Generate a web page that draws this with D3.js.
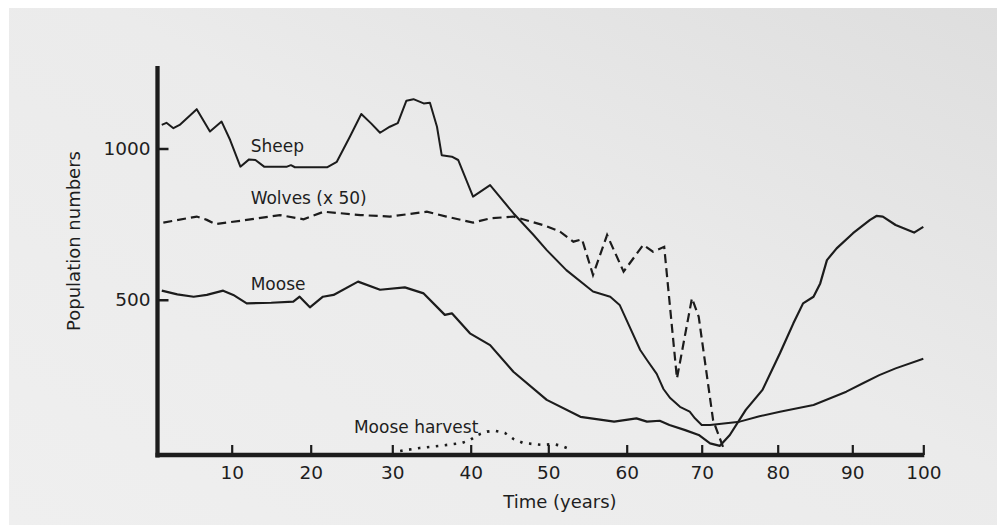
<!DOCTYPE html>
<html>
<head>
<meta charset="utf-8">
<script src="https://cdn.jsdelivr.net/npm/d3@7"></script>
<style>
  html, body { margin: 0; padding: 0; background: #ffffff; }
  svg { display: block; }
  text { font-family: "DejaVu Sans", sans-serif; fill: #1e1e1e; }
</style>
</head>
<body>
<svg id="chart" width="997" height="525"></svg>
<script>
// ---- Data ----
const xTickValues = [10, 20, 30, 40, 50, 60, 70, 80, 90, 100];
const yTickValues = [500, 1000];

const sheepYears  = [1, 1.6, 2.5, 3.3, 5.5, 7.2, 8.7, 9.8, 11.1, 12.2, 13, 14.1, 17, 17.5, 18, 22, 23.2, 24.8, 26.2, 27.4, 28.5, 29.7, 30.7, 31.8, 32.7, 34, 34.8, 35.7, 36.3, 37.6, 38.4, 40.3, 42.5, 45.5, 48.1, 49.8, 52.3, 55.7, 57.9, 59.1, 61.8, 62.7, 64, 64.9, 65.8, 67.1, 68.4, 69.1, 70, 71.1, 75, 77.6, 80.3, 84.8, 89.2, 91.5, 93.8, 96.1, 100];
const sheepValues = [1078, 1085, 1067, 1078, 1130, 1056, 1089, 1028, 940, 964, 962, 940, 940, 945, 938, 938, 956, 1039, 1114, 1083, 1052, 1072, 1084, 1158, 1163, 1149, 1151, 1072, 978, 973, 962, 841, 879, 786, 714, 664, 598, 527, 510, 483, 334, 301, 255, 205, 175, 146, 130, 108, 86, 86, 97, 115, 130, 152, 196, 224, 251, 273, 305];

const mooseYears  = [1, 3, 5.1, 6.8, 8.9, 10.2, 11.9, 15, 17.8, 18.6, 19.9, 21.5, 22.8, 25.8, 28.5, 31.6, 34, 36.7, 37.6, 39.9, 42.5, 45.5, 49.8, 54.1, 58.4, 61.3, 62.7, 64.4, 65.7, 67.8, 69.6, 71.1, 72.4, 73.7, 75.8, 78, 80.3, 82.1, 83.4, 84.8, 85.7, 86.6, 87.9, 90.1, 92.5, 93.4, 94.3, 96.1, 98.7, 100];
const mooseValues = [530, 518, 510, 516, 530, 516, 488, 490, 494, 510, 475, 510, 516, 560, 533, 541, 521, 450, 455, 389, 350, 262, 169, 113, 97, 108, 97, 100, 86, 69, 53, 25, 17, 53, 136, 202, 323, 422, 488, 510, 554, 631, 670, 720, 764, 777, 775, 747, 722, 741];

const wolfYears  = [1.2, 5.5, 6.8, 7.9, 11.9, 16.1, 19.1, 21.6, 26.1, 29.7, 34.4, 36.9, 40.3, 42.5, 45.5, 49.6, 51.5, 53.2, 54.3, 55.7, 57.5, 59.6, 62.2, 63.5, 65, 66.7, 68.7, 69.6, 71.5, 73];
const wolfValues = [755, 775, 764, 750, 764, 780, 766, 791, 780, 775, 791, 775, 755, 769, 775, 745, 725, 692, 700, 582, 714, 593, 681, 659, 675, 240, 505, 444, 102, 0];

const harvestYears  = [31, 33.5, 36, 38.8, 39.9, 40.9, 42.1, 43.1, 44.4, 45.5, 46.7, 48, 49.3, 50.6, 51.7, 53];
const harvestValues = [0, 10, 17, 26, 36, 53, 64, 67, 60, 40, 27, 23, 20, 23, 17, 3];

const seriesLabels = ["Sheep", "Wolves (x 50)", "Moose", "Moose harvest"];
const xTitle = "Time (years)";
const yTitle = "Population numbers";

// ---- Layout ----
const svg = d3.select("#chart");
const W = 997, H = 525;

// paper background
const defs = svg.append("defs");
const grad = defs.append("linearGradient").attr("id", "paper")
  .attr("x1", "0").attr("y1", "1").attr("x2", "1").attr("y2", "0");
grad.append("stop").attr("offset", "0").attr("stop-color", "#efefef");
grad.append("stop").attr("offset", "0.55").attr("stop-color", "#ebebeb");
grad.append("stop").attr("offset", "1").attr("stop-color", "#dedede");
svg.append("rect").attr("x", 0).attr("y", 0).attr("width", W).attr("height", H).attr("fill", "#ffffff");
svg.append("rect").attr("x", 9).attr("y", 8).attr("width", W - 9).attr("height", H - 8).attr("fill", "url(#paper)");

// scales (the scanned axis is slightly uneven, so a piecewise-linear scale follows its ticks)
const x = d3.scaleLinear()
  .domain([0, 10, 20, 30, 40, 50, 60, 70, 80, 90, 100])
  .range([154, 231.7, 310.7, 392.3, 470.7, 548.3, 626.7, 701.7, 777.7, 852.3, 923.3]);
const y = d3.scaleLinear().domain([0, 1000]).range([451, 148.5]);

const ink = "#1c1c1c";
const axisY = 455;
const axisX = 157.5;

// lines
const line = d3.line().x(d => x(d[0])).y(d => y(d[1])).curve(d3.curveLinear);
const zip = (a, b) => a.map((v, i) => [v, b[i]]);

svg.append("path").datum(zip(sheepYears, sheepValues))
  .attr("d", line).attr("fill", "none").attr("stroke", ink)
  .attr("stroke-width", 2).attr("stroke-linejoin", "round");

svg.append("path").datum(zip(mooseYears, mooseValues))
  .attr("d", line).attr("fill", "none").attr("stroke", ink)
  .attr("stroke-width", 2.2).attr("stroke-linejoin", "round");

svg.append("path").datum(zip(wolfYears, wolfValues))
  .attr("d", line).attr("fill", "none").attr("stroke", ink)
  .attr("stroke-width", 2.2).attr("stroke-dasharray", "9,5");

svg.append("path").datum(zip(harvestYears, harvestValues))
  .attr("d", line).attr("fill", "none").attr("stroke", ink)
  .attr("stroke-width", 2.6).attr("stroke-dasharray", "2.5,6.5");

// axes lines
svg.append("line").attr("x1", axisX).attr("x2", axisX).attr("y1", 66).attr("y2", axisY + 2.5)
  .attr("stroke", ink).attr("stroke-width", 4.3);
svg.append("line").attr("x1", axisX - 2).attr("x2", x(100) + 1).attr("y1", axisY).attr("y2", axisY)
  .attr("stroke", ink).attr("stroke-width", 4.3);

// x axis ticks
const gx = svg.append("g").attr("transform", `translate(0,${axisY})`)
  .call(d3.axisBottom(x).tickValues(xTickValues).tickSize(-10).tickSizeOuter(0).tickPadding(11));
gx.select(".domain").remove();
gx.selectAll(".tick line").attr("stroke", ink).attr("stroke-width", 2.2);
gx.selectAll(".tick text").attr("font-size", 18.5).attr("fill", ink)
  .style("font-family", "'DejaVu Sans', sans-serif");

// y axis ticks
const gy = svg.append("g").attr("transform", `translate(${axisX},0)`)
  .call(d3.axisLeft(y).tickValues(yTickValues).tickSize(-11).tickSizeOuter(0).tickPadding(7).tickFormat(d3.format("d")));
gy.select(".domain").remove();
gy.selectAll(".tick line").attr("stroke", ink).attr("stroke-width", 2.5);
gy.selectAll(".tick text").attr("font-size", 18.5).attr("fill", ink)
  .style("font-family", "'DejaVu Sans', sans-serif");

// series labels
const labelPos = [
  { t: seriesLabels[0], yr: 12.4, v: 990 },
  { t: seriesLabels[1], yr: 12.4, v: 816 },
  { t: seriesLabels[2], yr: 12.4, v: 532 },
  { t: seriesLabels[3], yr: 25.3, v: 60 }
];
svg.selectAll("text.series").data(labelPos).enter().append("text")
  .attr("class", "series")
  .attr("x", d => x(d.yr)).attr("y", d => y(d.v))
  .attr("font-size", 17).text(d => d.t);

// axis titles
svg.append("text").attr("x", x(44.2)).attr("y", 508).attr("font-size", 18).text(xTitle);
svg.append("text").attr("transform", "translate(80,241) rotate(-90)")
  .attr("text-anchor", "middle").attr("font-size", 18).text(yTitle);
</script>
</body>
</html>
